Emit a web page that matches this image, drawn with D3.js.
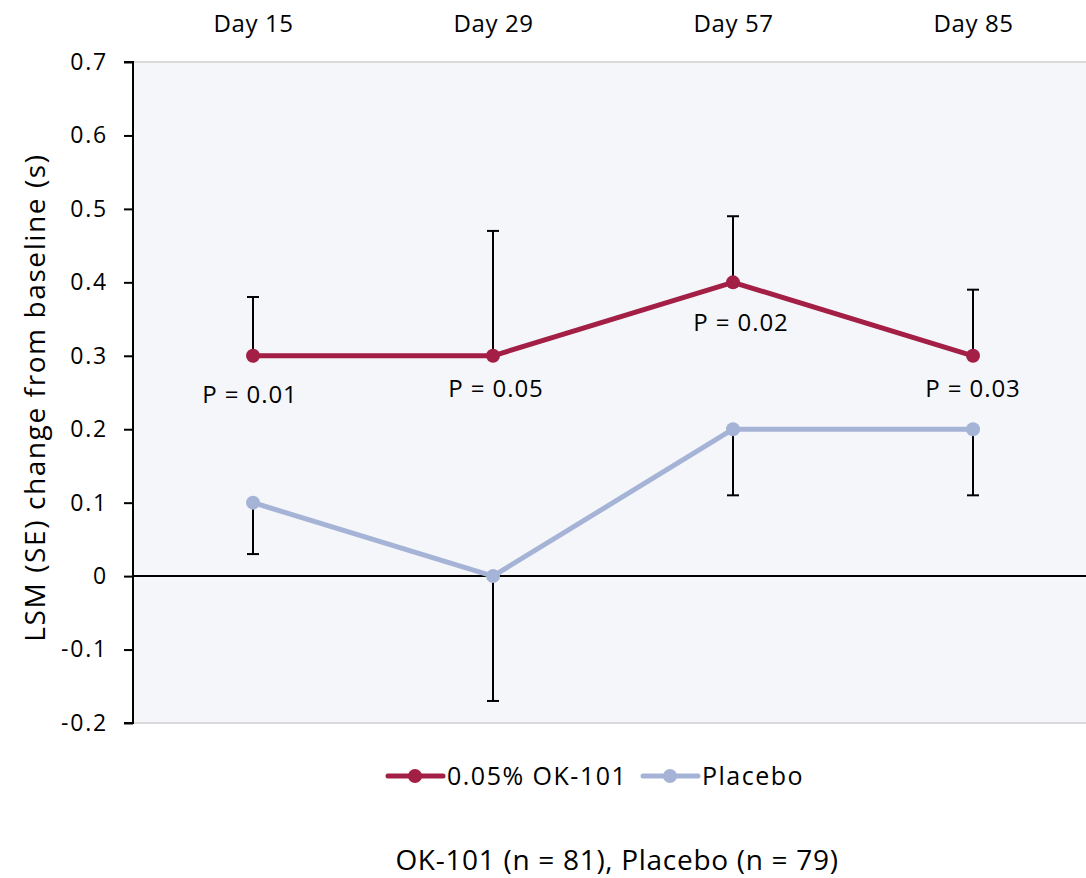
<!DOCTYPE html>
<html>
<head>
<meta charset="utf-8">
<script src="https://cdn.jsdelivr.net/npm/d3@7"></script>
<style>
  html, body { margin: 0; padding: 0; background: #fff; }
  svg { display: block; font-family: "Open Sans", sans-serif; font-weight: 400; }
</style>
</head>
<body>
<svg id="chart" width="1086" height="878"></svg>
<script>
// Visits and least-squares mean change from baseline
const visits = ["Day 15", "Day 29", "Day 57", "Day 85"];
const okValues = [0.3, 0.3, 0.4, 0.3];
const okUpper = [0.38, 0.47, 0.49, 0.39];
const placeboValues = [0.1, 0.0, 0.2, 0.2];
const placeboLower = [0.03, -0.17, 0.11, 0.11];
const pLabels = ["P = 0.01", "P = 0.05", "P = 0.02", "P = 0.03"];
const yTicks = [-0.2, -0.1, 0, 0.1, 0.2, 0.3, 0.4, 0.5, 0.6, 0.7];
const seriesNames = ["0.05% OK-101", "Placebo"];

const okColor = "#a31f46";
const placeboColor = "#a5b3d6";
const fontFamily = "'Open Sans', sans-serif";

const svg = d3.select("#chart");
const plot = { left: 133, right: 1093, top: 62, bottom: 723 };

const x = d3.scalePoint().domain(visits).range([plot.left, plot.right]).padding(0.5);
const y = d3.scaleLinear().domain([-0.2, 0.7]).range([plot.bottom, plot.top]);

// plot background
svg.append("rect")
  .attr("x", plot.left).attr("y", plot.top)
  .attr("width", 1086 - plot.left).attr("height", plot.bottom - plot.top)
  .attr("fill", "#f5f6fa");
svg.append("line")
  .attr("x1", plot.left).attr("x2", 1086)
  .attr("y1", plot.top).attr("y2", plot.top)
  .attr("stroke", "#d9d9d9").attr("stroke-width", 2);
svg.append("line")
  .attr("x1", plot.left).attr("x2", 1086)
  .attr("y1", plot.bottom).attr("y2", plot.bottom)
  .attr("stroke", "#d9d9d9").attr("stroke-width", 2);

// y axis
const yAxis = svg.append("g")
  .attr("transform", `translate(${plot.left},0)`)
  .call(d3.axisLeft(y).tickValues(yTicks).tickSize(9).tickPadding(16)
    .tickFormat(d => d === 0 ? "0" : d3.format(".1f")(d).replace("−", "-")));
yAxis.select(".domain").attr("stroke", "#000").attr("stroke-width", 2)
  .attr("d", `M-9,${plot.top}H0V${plot.bottom}H-9`);
yAxis.selectAll(".tick line").attr("stroke", "#000").attr("stroke-width", 2);
yAxis.selectAll(".tick text").attr("font-size", 23).attr("fill", "#000")
  .attr("letter-spacing", 1.8).attr("font-family", fontFamily);

// top category labels
const xAxis = svg.append("g")
  .attr("transform", `translate(0,${plot.top})`)
  .call(d3.axisTop(x).tickSize(0).tickPadding(30));
xAxis.select(".domain").remove();
xAxis.selectAll(".tick text").attr("font-size", 24).attr("fill", "#000")
  .attr("letter-spacing", 0.6).attr("font-family", fontFamily);

// zero line
svg.append("line")
  .attr("x1", plot.left).attr("x2", 1086)
  .attr("y1", y(0)).attr("y2", y(0))
  .attr("stroke", "#000").attr("stroke-width", 2);

// error bars
const capW = 6;
function errorBars(vals, ends) {
  const g = svg.append("g").attr("stroke", "#000").attr("stroke-width", 2);
  vals.forEach((v, i) => {
    const cx = x(visits[i]);
    g.append("line").attr("x1", cx).attr("x2", cx).attr("y1", y(v)).attr("y2", y(ends[i]));
    g.append("line").attr("x1", cx - capW).attr("x2", cx + capW).attr("y1", y(ends[i])).attr("y2", y(ends[i]));
  });
}
errorBars(okValues, okUpper);
errorBars(placeboValues, placeboLower);

// series lines and markers
const line = d3.line().x((d, i) => x(visits[i])).y(d => y(d));
function series(vals, color) {
  svg.append("path").datum(vals)
    .attr("d", line).attr("fill", "none")
    .attr("stroke", color).attr("stroke-width", 5).attr("stroke-linejoin", "round");
  svg.append("g").selectAll("circle").data(vals).join("circle")
    .attr("cx", (d, i) => x(visits[i])).attr("cy", d => y(d))
    .attr("r", 7).attr("fill", color);
}
series(placeboValues, placeboColor);
series(okValues, okColor);

// p-value labels
const pOffsets = [[-3, 47], [3, 41], [8, 49], [0, 41]];
svg.append("g").selectAll("text").data(pLabels).join("text")
  .attr("x", (d, i) => x(visits[i]) + pOffsets[i][0])
  .attr("y", (d, i) => y(okValues[i]) + pOffsets[i][1])
  .attr("text-anchor", "middle").attr("font-size", 24).attr("fill", "#000")
  .attr("letter-spacing", 0.9).attr("font-family", fontFamily)
  .text(d => d);

// y axis title
svg.append("text")
  .attr("transform", `translate(45,${(plot.top + plot.bottom) / 2 + 5}) rotate(-90)`)
  .attr("text-anchor", "middle").attr("font-size", 28).attr("fill", "#000")
  .attr("font-family", fontFamily).attr("letter-spacing", 1.6)
  .text("LSM (SE) change from baseline (s)");

// legend
const legend = [
  { name: seriesNames[0], color: okColor, x0: 388 },
  { name: seriesNames[1], color: placeboColor, x0: 643 }
];
const lg = svg.append("g");
legend.forEach(l => {
  lg.append("line").attr("x1", l.x0).attr("x2", l.x0 + 55)
    .attr("y1", 776).attr("y2", 776)
    .attr("stroke", l.color).attr("stroke-width", 5).attr("stroke-linecap", "round");
  lg.append("circle").attr("cx", l.x0 + 27).attr("cy", 776).attr("r", 7).attr("fill", l.color);
  lg.append("text").attr("x", l.x0 + 59).attr("y", 785)
    .attr("font-size", 25).attr("letter-spacing", 1.5).attr("fill", "#000")
    .attr("font-family", fontFamily).text(l.name);
});

// footnote
svg.append("text")
  .attr("x", 617).attr("y", 870)
  .attr("text-anchor", "middle").attr("font-size", 28).attr("fill", "#000")
  .attr("font-family", fontFamily).attr("letter-spacing", 0.7)
  .text("OK-101 (n = 81), Placebo (n = 79)");
</script>
</body>
</html>
